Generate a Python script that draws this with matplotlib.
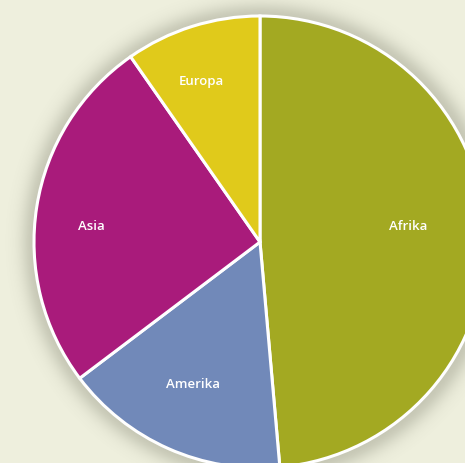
import numpy as np
import matplotlib.pyplot as plt

# regions and their shares (percent)
labels = ["Afrika", "Amerika", "Asia", "Europa"]
shares = [48.6, 16.1, 25.6, 9.7]
colors = ["#a3a922", "#7189b9", "#a91b7b", "#e0ca1b"]

# where each label sits (pixel coords, y from top)
label_pos = [(408, 227), (193, 385), (91, 227), (201, 82)]

W, H = 465, 463
cx, cy, R = 260, H - 242, 226
bg = "#eeefdd"

fig = plt.figure(figsize=(W / 100, H / 100), dpi=100, facecolor=bg)
ax = fig.add_axes([0, 0, 1, 1])
ax.set_xlim(0, W)
ax.set_ylim(0, H)
ax.set_aspect("equal")
ax.axis("off")

# soft drop shadow around the disc
yy, xx = np.mgrid[0:H, 0:W]
d = np.hypot(xx - cx, yy - (cy - 1))
a = np.where(d > R, np.exp(-((d - R) / 14.0) ** 2), 1.0) * 0.3
shadow = np.zeros((H, W, 4))
shadow[..., :3] = np.array([0.42, 0.43, 0.36])
shadow[..., 3] = a
ax.imshow(shadow, extent=(0, W, 0, H), origin="lower", zorder=0)

wedges, _ = ax.pie(shares, colors=colors, startangle=90, counterclock=False,
                   center=(cx, cy), radius=R, frame=True,
                   wedgeprops=dict(edgecolor="white", linewidth=2.2))
for w in wedges:
    w.set_zorder(2)
ax.set_xlim(0, W)
ax.set_ylim(0, H)
ax.axis("off")

for name, (x, y) in zip(labels, label_pos):
    ax.text(x, H - y, name, color="white", fontsize=9.5, family="Open Sans",
            weight="semibold", ha="center", va="center", zorder=3)

plt.savefig("out.png", dpi=100, facecolor=bg)
